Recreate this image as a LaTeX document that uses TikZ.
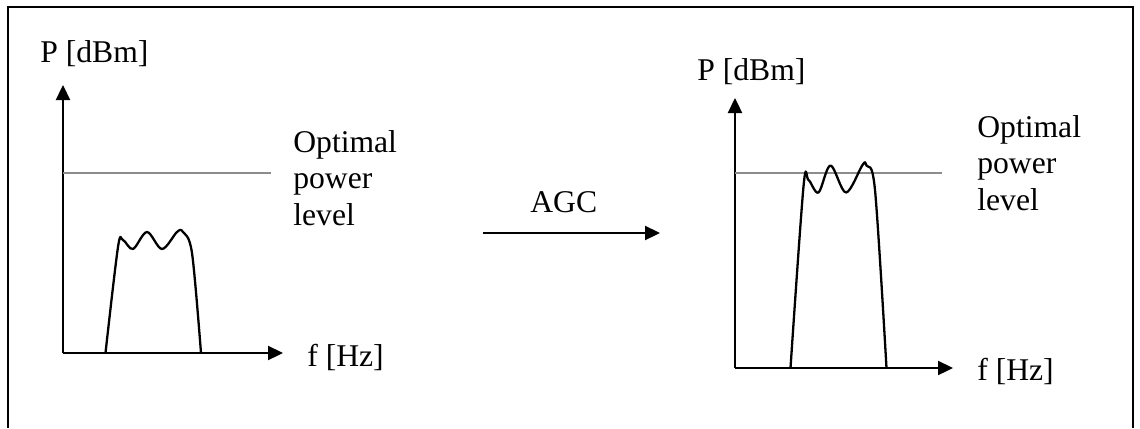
\documentclass[tikz,border=0pt]{standalone}
\usepackage{fontspec}
\setmainfont{Liberation Serif}
\usetikzlibrary{arrows.meta}

\tikzset{
  axis/.style={line width=1.3pt,-{Triangle[length=0.3cm,width=0.28cm]}},
  level/.style={line width=1.2pt,draw=black!45},
  band/.style={line width=1.3pt,line join=round},
  lbl/.style={inner sep=0pt,font=\fontsize{18}{20.8}\selectfont},
}

\begin{document}
\begin{tikzpicture}[inner sep=0pt,minimum size=0mm]

\useasboundingbox (0,0) rectangle (22.8,8.56);

% frame, open at the bottom
\draw[line width=1.3pt] (0.16,0) -- (0.16,8.42) -- (22.66,8.42) -- (22.66,0);

% left plot: before AGC
\coordinate (o1) at (1.26,1.5);
\coordinate (y1) at (1.26,6.86);
\coordinate (x1) at (5.66,1.5);
\coordinate (l1) at (5.42,5.1);

\draw[axis] (o1) -- (y1);
\draw[axis] (o1) -- (x1);
\draw[level] (o1 |- l1) -- (l1);

\draw[band] plot[smooth,tension=0.55] coordinates {(2.11,1.5) (2.36,3.62) (2.46,3.76)
  (2.66,3.58) (2.94,3.92) (3.24,3.58) (3.54,3.92) (3.66,3.92) (3.84,3.50) (4.02,1.5)};

\node[lbl,anchor=base west] (p1) at (0.8,7.32) {P [dBm]};
\node[lbl,anchor=base west] (f1) at (6.14,1.24) {f [Hz]};
\node[lbl,anchor=north west,align=left] (opt1) at (5.86,5.96) {Optimal\\power\\level};

% AGC arrow
\coordinate (agcA) at (9.66,3.9);
\coordinate (agcB) at (13.2,3.9);
\draw[axis] (agcA) -- (agcB);
\node[lbl,anchor=base west] (agc) at (10.6,4.32) {AGC};

% right plot: after AGC
\coordinate (o2) at (14.7,1.2);
\coordinate (y2) at (14.7,6.6);
\coordinate (x2) at (19.06,1.2);
\coordinate (l2) at (18.84,5.1);

\draw[axis] (o2) -- (y2);
\draw[axis] (o2) -- (x2);
\draw[level] (o2 |- l2) -- (l2);

\draw[band] plot[smooth,tension=0.55] coordinates {(15.81,1.2) (16.07,4.83) (16.17,4.96)
  (16.37,4.71) (16.61,5.25) (16.92,4.71) (17.25,5.26) (17.33,5.25) (17.5,4.76) (17.73,1.2)};

\node[lbl,anchor=base west] (p2) at (13.94,6.96) {P [dBm]};
\node[lbl,anchor=base west] (f2) at (19.54,0.96) {f [Hz]};
\node[lbl,anchor=north west,align=left] (opt2) at (19.54,6.26) {Optimal\\power\\level};

\end{tikzpicture}
\end{document}
